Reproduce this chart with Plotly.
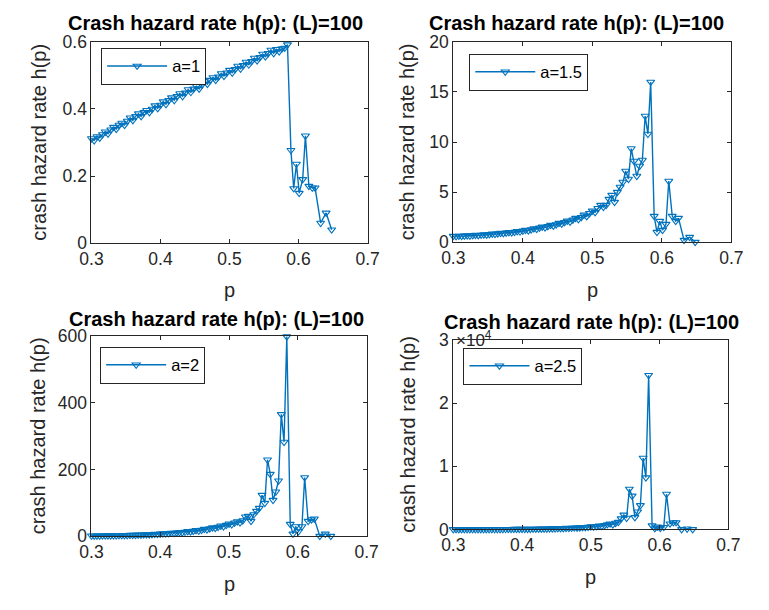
import plotly.graph_objects as go

# ---------------- data ----------------
p = [0.300, 0.304, 0.308, 0.312, 0.316, 0.320, 0.324, 0.328, 0.332, 0.336,
     0.340, 0.344, 0.348, 0.352, 0.356, 0.360, 0.364, 0.368, 0.372, 0.376,
     0.380, 0.384, 0.388, 0.392, 0.396, 0.400, 0.404, 0.408, 0.412, 0.416,
     0.420, 0.424, 0.428, 0.432, 0.436, 0.440, 0.444, 0.448, 0.452, 0.456,
     0.460, 0.464, 0.468, 0.472, 0.476, 0.480, 0.484, 0.488, 0.492, 0.496,
     0.500, 0.504, 0.508, 0.512, 0.516, 0.520, 0.524, 0.528, 0.532, 0.536,
     0.540, 0.544, 0.548, 0.552, 0.556, 0.560, 0.564, 0.568, 0.572, 0.576,
     0.580, 0.584, 0.589, 0.593, 0.597, 0.601, 0.606, 0.610, 0.615, 0.620,
     0.624, 0.632, 0.640, 0.648]

h_a1 = [0.312, 0.306, 0.318, 0.314, 0.324, 0.332, 0.326, 0.338, 0.346, 0.340,
        0.352, 0.358, 0.352, 0.364, 0.374, 0.366, 0.378, 0.386, 0.378, 0.390,
        0.396, 0.390, 0.400, 0.410, 0.402, 0.412, 0.422, 0.414, 0.426, 0.434,
        0.426, 0.438, 0.446, 0.438, 0.448, 0.458, 0.450, 0.460, 0.468, 0.460,
        0.472, 0.482, 0.474, 0.486, 0.494, 0.486, 0.496, 0.506, 0.498, 0.508,
        0.516, 0.508, 0.518, 0.528, 0.520, 0.530, 0.540, 0.532, 0.542, 0.552,
        0.544, 0.554, 0.564, 0.556, 0.566, 0.576, 0.566, 0.578, 0.571, 0.580,
        0.582, 0.592, 0.277, 0.163, 0.236, 0.149, 0.190, 0.320, 0.170, 0.165,
        0.165, 0.060, 0.090, 0.040]

h_a15 = [0.60, 0.58, 0.62, 0.60, 0.63, 0.66, 0.64, 0.67, 0.70, 0.68,
         0.72, 0.75, 0.73, 0.78, 0.82, 0.80, 0.85, 0.90, 0.88, 0.93,
         0.98, 0.95, 1.01, 1.07, 1.04, 1.12, 1.20, 1.16, 1.26, 1.36,
         1.31, 1.42, 1.52, 1.46, 1.58, 1.70, 1.63, 1.76, 1.90, 1.82,
         1.97, 2.12, 2.03, 2.22, 2.40, 2.28, 2.48, 2.72, 2.58, 2.88,
         3.12, 2.98, 3.38, 3.70, 3.50, 3.70, 4.30, 4.70, 4.00, 5.00,
         5.50, 6.00, 7.10, 6.30, 9.35, 8.10, 6.60, 7.60, 8.20, 12.60,
         10.80, 16.00, 2.60, 1.00, 2.10, 1.20, 1.80, 6.10, 2.60, 2.10,
         2.40, 0.20, 0.50, 0.00]

h_a2 = [1.2, 1.1, 1.3, 1.2, 1.4, 1.6, 1.5, 1.7, 2.0, 1.9,
        2.2, 2.5, 2.4, 2.8, 3.2, 3.0, 3.5, 4.0, 3.8, 4.4,
        5.0, 4.7, 5.4, 6.2, 5.9, 7.0, 7.8, 7.4, 8.5, 9.6,
        9.1, 10.4, 11.7, 11.0, 12.6, 14.2, 13.4, 15.3, 17.2, 16.2,
        18.5, 21.0, 19.8, 22.5, 25.5, 24.0, 27.5, 31.0, 29.0, 33.0,
        37.0, 35.0, 40.0, 44.0, 41.0, 47.0, 58.0, 60.0, 45.0, 65.0,
        75.0, 84.0, 123.0, 99.0, 229.0, 186.0, 108.0, 133.0, 166.0, 365.0,
        282.0, 598.0, 36.0, 7.0, 29.0, 14.0, 29.0, 176.0, 45.0, 50.0,
        52.0, 0.0, 7.0, 0.0]

h_a25 = [5, 4, 6, 5, 7, 8, 7, 9, 11, 10,
         12, 14, 13, 16, 19, 18, 21, 25, 23, 28,
         33, 31, 37, 43, 40, 48, 56, 52, 62, 73,
         68, 80, 94, 88, 104, 122, 114, 135, 158, 148,
         175, 205, 192, 226, 265, 248, 290, 340, 318, 375,
         440, 410, 490, 580, 540, 640, 780, 900, 760, 1000,
         1150, 1700, 2300, 1800, 6400, 5300, 1900, 2800, 3800, 11300,
         8200, 24400, 600, 150, 400, 200, 350, 5600, 900, 1100,
         1100, 0, 100, 0]

names = ["a=1", "a=1.5", "a=2", "a=2.5"]
series = [h_a1, h_a15, h_a2, h_a25]

x_ticks = [0.3, 0.4, 0.5, 0.6, 0.7]
x_ticktext = ["0.3", "0.4", "0.5", "0.6", "0.7"]
y_ticks = [[0, 0.2, 0.4, 0.6], [0, 5, 10, 15, 20], [0, 200, 400, 600], [0, 10000, 20000, 30000]]
y_ticktext = [["0", "0.2", "0.4", "0.6"], ["0", "5", "10", "15", "20"],
              ["0", "200", "400", "600"], ["0", "1", "2", "3"]]
y_ranges = [[0, 0.6], [0, 20], [0, 600], [0, 30000]]

title_text = "Crash hazard rate h(p): (L)=100"
xlabel = "p"
ylabel = "crash hazard rate h(p)"

# ---------------- layout geometry (pixels) ----------------
W, H = 769, 610
boxes = [(82, 367, 33, 241), (455.5, 742.5, 33, 240), (82, 366, 337, 544), (455.5, 739.5, 341, 537)]
legend_pos = [(92, 39), (472, 45), (91, 348), (466, 349)]
title_pos = [(210, 13), (583, 13), (211, 319), (598, 323)]
ylabel_x = [27, 27 + 381, 27, 27 + 381]

BLUE = "#0072BD"
AX = "#262626"
FONT = "Liberation Sans, Arial, Helvetica, sans-serif"

fig = go.Figure()
layout = dict(width=W, height=H, autosize=False, margin=dict(l=0, r=0, t=0, b=0),
              paper_bgcolor="white", plot_bgcolor="white", showlegend=True,
              font=dict(family=FONT, color=AX, size=15))
annotations = []

for k in range(4):
    x0, x1, y0, y1 = boxes[k]
    sfx = "" if k == 0 else str(k + 1)
    xa, ya = "xaxis" + sfx, "yaxis" + sfx
    lg = "legend" + sfx
    fig.add_trace(go.Scatter(
        x=p, y=series[k], mode="lines+markers", name=names[k],
        xaxis="x" + sfx, yaxis="y" + sfx, legend=lg, cliponaxis=False,
        line=dict(color=BLUE, width=1.4),
        marker=dict(symbol="triangle-down-open", size=7, color=BLUE, line=dict(width=1.1, color=BLUE))))
    common = dict(showline=True, linecolor=AX, linewidth=1, mirror="allticks",
                  ticks="inside", ticklen=4, tickcolor=AX, tickwidth=1,
                  showgrid=False, zeroline=False, tickfont=dict(size=17.5, color=AX, family=FONT))
    layout[xa] = dict(domain=[x0 / W, x1 / W], range=[0.3, 0.7], tickvals=x_ticks,
                      ticktext=x_ticktext, anchor="y" + sfx, **common)
    layout[ya] = dict(domain=[1 - y1 / H, 1 - y0 / H], range=y_ranges[k], tickvals=y_ticks[k],
                      ticktext=y_ticktext[k], anchor="x" + sfx, **common)
    lx, ly = legend_pos[k]
    layout[lg] = dict(x=lx / W, y=1 - ly / H, xanchor="left", yanchor="top",
                      bordercolor=AX, borderwidth=1, bgcolor="white",
                      font=dict(size=16.5, color="#000000", family=FONT), itemwidth=60)
    tx, ty = title_pos[k]
    annotations.append(dict(text="<b>" + title_text + "</b>", x=tx / W, y=1 - ty / H,
                            xref="paper", yref="paper", showarrow=False,
                            xanchor="center", yanchor="middle",
                            font=dict(size=20, color="#000000", family=FONT)))
    annotations.append(dict(text=xlabel, x=(x0 + x1) / 2 / W, y=1 - (y1 + 49) / H,
                            xref="paper", yref="paper", showarrow=False,
                            xanchor="center", yanchor="middle",
                            font=dict(size=20, color=AX, family=FONT)))
    annotations.append(dict(text=ylabel, x=ylabel_x[k] / W, y=1 - (y0 + y1) / 2 / H,
                            xref="paper", yref="paper", showarrow=False, textangle=-90,
                            xanchor="center", yanchor="middle",
                            font=dict(size=20, color=AX, family=FONT)))

annotations.append(dict(text="×10<sup>4</sup>", x=456 / W, y=1 - 354 / H, xref="paper", yref="paper",
                        showarrow=False, xanchor="left", yanchor="bottom",
                        font=dict(size=17, color=AX, family=FONT)))
layout["annotations"] = annotations
fig.update_layout(**layout)
fig.write_html("out.html")
